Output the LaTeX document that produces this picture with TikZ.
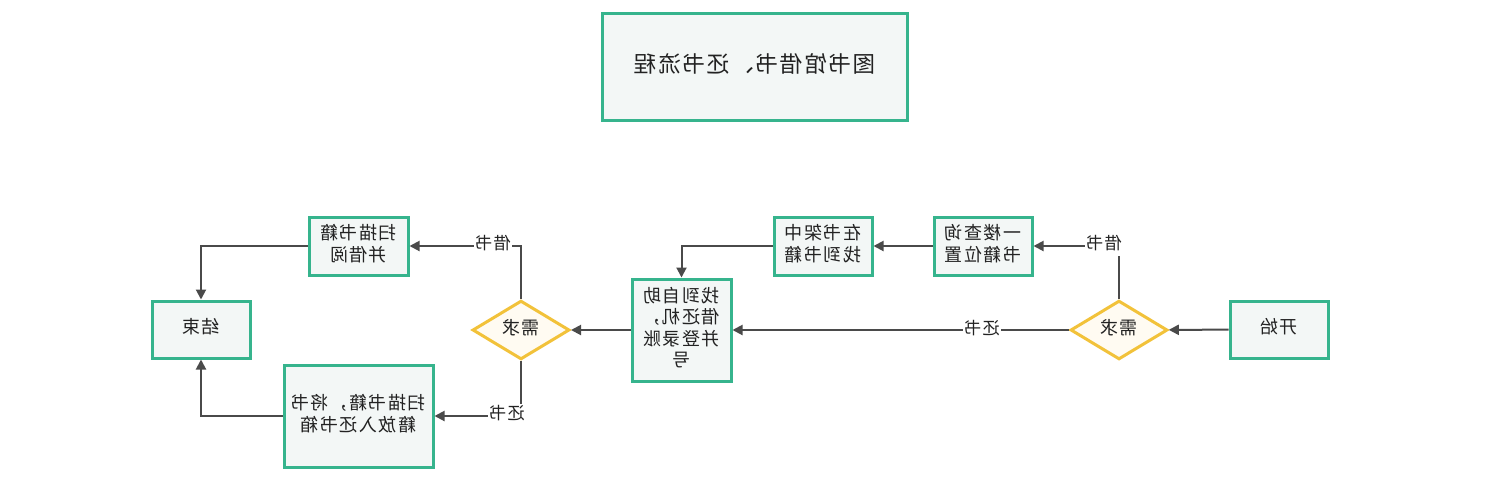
\documentclass[tikz,border=0pt]{standalone}
\usepackage{fontspec}
\setmainfont[LetterSpace=8]{Noto Sans CJK SC}
\usetikzlibrary{shapes.geometric,arrows.meta}
\definecolor{bgreen}{HTML}{36B48D}
\definecolor{bfill}{HTML}{F3F7F6}
\definecolor{dyel}{HTML}{F2C23A}
\definecolor{dfill}{HTML}{FFFBF2}
\definecolor{lgray}{HTML}{4A4A4A}
\definecolor{tcol}{HTML}{222222}
\newcommand{\mtext}[1]{\reflectbox{\begin{tabular}{@{}c@{}}#1\end{tabular}}}
\begin{document}
\begin{tikzpicture}[x=1pt,y=-1pt,
  box/.style={draw=bgreen, line width=3pt, fill=bfill, rectangle, inner sep=0pt,
    font=\fontsize{18}{21}\selectfont, text=tcol},
  dia/.style={draw=dyel, line width=3pt, fill=dfill, diamond, inner sep=0pt,
    minimum width=97pt, minimum height=57pt, font=\fontsize{18}{21}\selectfont, text=tcol},
  conn/.style={draw=lgray, line width=2pt, -{Triangle[length=10pt,width=10pt]}},
  lab/.style={fill=white, inner sep=1.5pt, font=\fontsize{17}{19}\selectfont, text=tcol}]
\useasboundingbox[fill=white] (0,0) rectangle (1511,483);
% nodes
\node[box, minimum width=305pt, minimum height=107pt, font=\fontsize{22.5}{26}\selectfont] (title) at (755,66.5) {\mtext{图书馆借书、还书流程}};
\node[box, minimum width=98pt, minimum height=57pt] (start) at (1279,329.5) {\mtext{开始}};
\node[dia] (d1) at (1119,330) {\mtext{需求}};
\node[box, minimum width=98pt, minimum height=58pt] (q) at (983,246) {\mtext{一楼查询\\书籍位置}};
\node[box, minimum width=98pt, minimum height=58pt] (s) at (823,246) {\mtext{在书架中\\找到书籍}};
\node[box, minimum width=99pt, minimum height=102pt] (m) at (681.5,330) {\mtext{找到自助\\借还机，\\并登录账\\号}};
\node[dia] (d2) at (521,330) {\mtext{需求}};
\node[box, minimum width=99pt, minimum height=58pt] (b) at (358.5,246) {\mtext{扫描书籍\\并借阅}};
\node[box, minimum width=149pt, minimum height=102pt] (r) at (358.5,416) {\mtext{扫描书籍，将书\\籍放入还书箱}};
\node[box, minimum width=98pt, minimum height=57pt] (e) at (201,329.5) {\mtext{结束}};
% connectors
\draw[conn] (start) -- (d1);
\draw[conn] (d1.north) |- (q.east);
\draw[conn] (d1) -- (m);
\draw[conn] (q) -- (s);
\draw[conn] (s.west) -| (m.north);
\draw[conn] (m) -- (d2);
\draw[conn] (d2.north) |- (b.east);
\draw[conn] (d2.south) |- (r.east);
\draw[conn] (b.west) -| (e.north);
\draw[conn] (r.west) -| (e.south);
% labels
\node[lab] (l1) at (1104,245) {\mtext{借书}};
\node[lab] (l2) at (982,330) {\mtext{还书}};
\node[lab] (l3) at (493,245) {\mtext{借书}};
\node[lab] (l4) at (507,415) {\mtext{还书}};
\end{tikzpicture}
\end{document}
